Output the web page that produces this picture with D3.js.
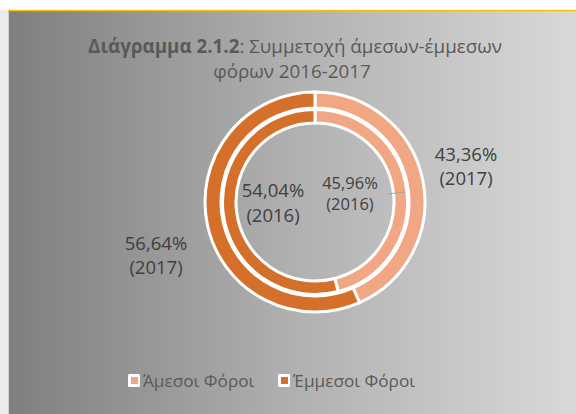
<!DOCTYPE html>
<html>
<head>
<meta charset="utf-8">
<script src="https://cdn.jsdelivr.net/npm/d3@7"></script>
<style>
  body { margin: 0; background: #fff; }
  svg { display: block; font-family: "Open Sans", sans-serif; }
</style>
</head>
<body>
<div id="chart"></div>
<script>
const categories = ["Άμεσοι Φόροι", "Έμμεσοι Φόροι"];
const colors = ["#F2A784", "#D5702A"];
const values2016 = [45.96, 54.04];
const values2017 = [43.36, 56.64];
const labels2016 = ["45,96%", "54,04%"];
const labels2017 = ["43,36%", "56,64%"];

const width = 576;
const height = 414;
const cx = 315, cy = 202;

const svg = d3.select("#chart")
    .append("svg")
    .attr("width", width)
    .attr("height", height);

// background gradient
const defs = svg.append("defs");
const grad = defs.append("linearGradient")
    .attr("id", "bg")
    .attr("x1", "0%").attr("x2", "100%")
    .attr("y1", "0%").attr("y2", "0%");
grad.append("stop").attr("offset", "0%").attr("stop-color", "#7f7f7f");
grad.append("stop").attr("offset", "50%").attr("stop-color", "#b0b0b0");
grad.append("stop").attr("offset", "100%").attr("stop-color", "#d9d9d9");

svg.append("rect")
    .attr("x", 0).attr("y", 10)
    .attr("width", 9).attr("height", height - 10)
    .attr("fill", "#ececec");
svg.append("line")
    .attr("x1", 8.5).attr("x2", 8.5)
    .attr("y1", 10).attr("y2", height)
    .attr("stroke", "#d0d0d0");
svg.append("rect")
    .attr("x", 9).attr("y", 11)
    .attr("width", width - 9).attr("height", height - 11)
    .attr("fill", "url(#bg)");
svg.append("line")
    .attr("x1", 8).attr("x2", width)
    .attr("y1", 10.5).attr("y2", 10.5)
    .attr("stroke", "#FFC000")
    .attr("stroke-width", 1.5);

// title
const title = svg.append("text")
    .attr("x", 295)
    .attr("y", 53)
    .attr("text-anchor", "middle")
    .style("font-size", "18.8px")
    .style("fill", "#595959");
title.append("tspan").style("font-weight", "bold").text("Διάγραμμα 2.1.2");
title.append("tspan").text(": Συμμετοχή άμεσων-έμμεσων");
svg.append("text")
    .attr("x", 292)
    .attr("y", 78)
    .attr("text-anchor", "middle")
    .style("font-size", "18.8px")
    .style("fill", "#595959")
    .text("φόρων 2016-2017");

// donut
const pie = d3.pie().sort(null).value(d => d);
const g = svg.append("g").attr("transform", `translate(${cx},${cy})`);

const rings = [
    { values: values2016, inner: 79, outer: 92.5 },
    { values: values2017, inner: 94, outer: 110 }
];

rings.forEach(ring => {
    const arc = d3.arc().innerRadius(ring.inner).outerRadius(ring.outer);
    g.selectAll(null)
        .data(pie(ring.values))
        .enter()
        .append("path")
        .attr("d", arc)
        .attr("fill", (d, i) => colors[i])
        .attr("stroke", "#fff")
        .attr("stroke-width", 3);
});

// data labels
const dataLabels = [
    { text: labels2017[0], year: "2017", x: 466, y: 161, size: 18.5, dy: 24 },
    { text: labels2017[1], year: "2017", x: 156, y: 250, size: 18.5, dy: 24 },
    { text: labels2016[1], year: "2016", x: 273, y: 197, size: 18.5, dy: 25 },
    { text: labels2016[0], year: "2016", x: 350, y: 189, size: 16.5, dy: 21 }
];

dataLabels.forEach(l => {
    const t = svg.append("text")
        .attr("x", l.x)
        .attr("y", l.y)
        .attr("text-anchor", "middle")
        .style("font-size", l.size + "px")
        .style("fill", "#404040");
    t.append("tspan").attr("x", l.x).text(l.text);
    t.append("tspan").attr("x", l.x).attr("dy", l.dy).text("(" + l.year + ")");
});

// leader line for inner label
svg.append("line")
    .attr("x1", 387).attr("y1", 194)
    .attr("x2", 405).attr("y2", 192)
    .attr("stroke", "#a6a6a6")
    .attr("stroke-width", 1.2);

// legend
const legendItems = [
    { x: 128, textX: 143 },
    { x: 278, textX: 293 }
];
categories.forEach((c, i) => {
    const lx = legendItems[i].x;
    svg.append("rect")
        .attr("x", lx).attr("y", 374)
        .attr("width", 12).attr("height", 13)
        .attr("rx", 1.5)
        .attr("fill", "#fff");
    svg.append("rect")
        .attr("x", lx + 3).attr("y", 377)
        .attr("width", 7).attr("height", 7)
        .attr("fill", colors[i]);
    svg.append("text")
        .attr("x", legendItems[i].textX)
        .attr("y", 387)
        .style("font-size", "17.2px")
        .style("fill", "#595959")
        .text(c);
});
</script>
</body>
</html>
